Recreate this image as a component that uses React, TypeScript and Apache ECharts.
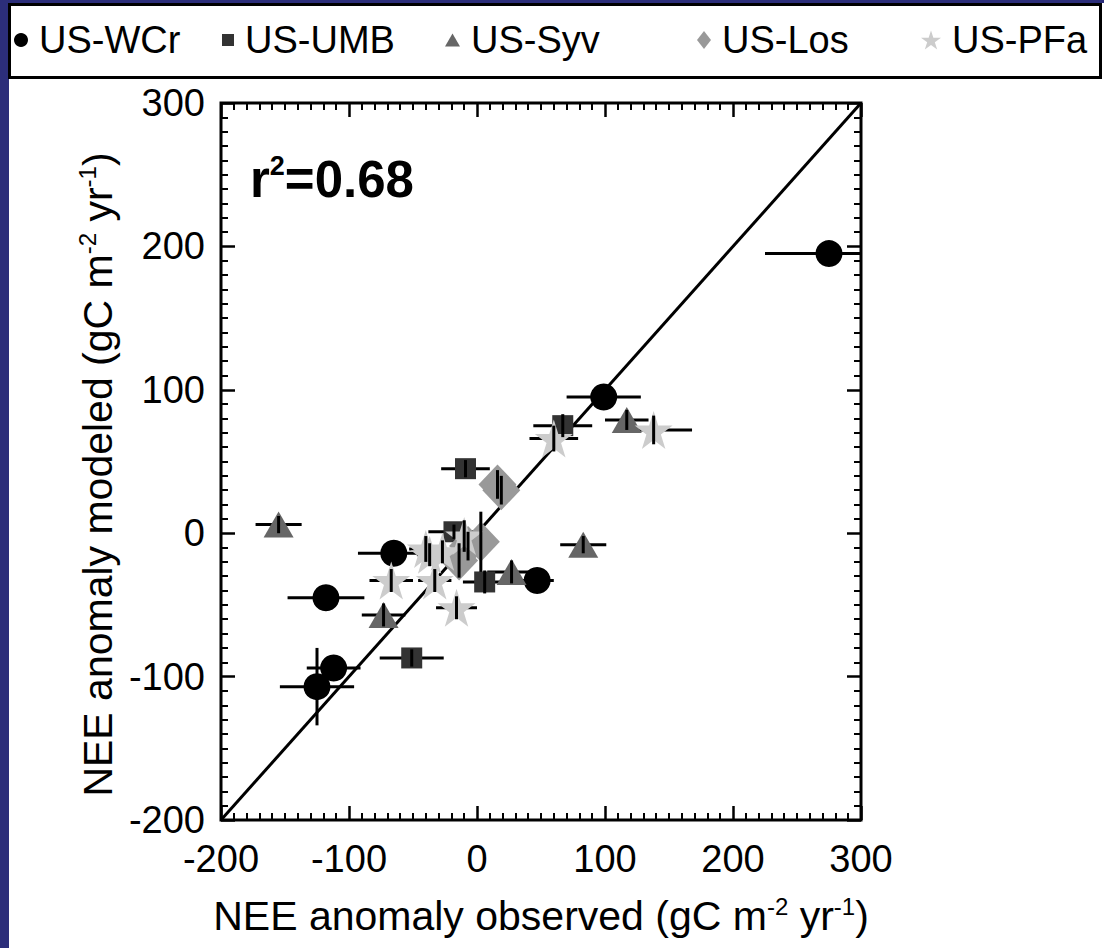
import React, { useEffect, useRef } from 'react';
import * as echarts from 'echarts';

// Sites in the comparison
const sites = ['US-WCr', 'US-UMB', 'US-Syv', 'US-Los', 'US-PFa'];

// Each row: [observed anomaly, modeled anomaly, observed uncertainty, modeled uncertainty]
const wcr = [
  [275, 195, 50, 5],
  [99, 95, 29, 5],
  [-65, -14, 28, 5],
  [-118, -45, 30, 5],
  [-112, -94, 21, 5],
  [-125, -107, 29, 27],
  [47, -33, 13, 5],
];
const umb = [
  [67, 75, 23, 8],
  [-9, 45, 19, 6],
  [-18, 1, 20, 5],
  [6, -34, 17, 8],
  [-51, -87, 25, 6],
];
const syv = [
  [117, 79, 17, 7],
  [-155, 6, 18, 6],
  [83, -8, 18, 6],
  [27, -27, 19, 8],
  [-73, -57, 17, 8],
];
const los = [
  [16, 34, 6, 10],
  [19, 30, 6, 10],
  [3, -6, 8, 21],
  [-14, -19, 8, 12],
  [-7, -9, 8, 10],
];
const pfa = [
  [138, 72, 30, 10],
  [60, 66, 19, 9],
  [-67, -33, 17, 8],
  [-16, -52, 16, 8],
  [-33, -33, 13, 8],
  [-40, -11, 13, 9],
  [-37, -15, 10, 8],
  [-10, -2, 12, 11],
  [-27, -13, 10, 8],
];

const siteData = [wcr, umb, syv, los, pfa];

// Axis range and tick spacing
const axisMin = -200;
const axisMax = 300;
const axisStep = 100;

const rSquared = '0.68';

const FONT = '"Liberation Sans", Arial, Helvetica, sans-serif';
const STAR =
  'path://M50 0L61.23 34.55L97.55 34.55L68.16 55.9L79.39 90.45L50 69.1L20.61 90.45L31.84 55.9L2.45 34.55L38.77 34.55Z';

const markerStyles = [
  { symbol: 'circle', size: 27, color: '#000000', legendW: 14, legendH: 14, legendLeft: 14 },
  { symbol: 'rect', size: 21, color: '#333333', legendW: 12, legendH: 12, legendLeft: 222 },
  { symbol: 'triangle', size: [30, 26], color: '#666666', legendW: 15, legendH: 13, legendLeft: 445 },
  { symbol: 'diamond', size: [38, 40], color: '#999999', legendW: 14, legendH: 18, legendLeft: 697 },
  { symbol: STAR, size: 38, color: '#cccccc', legendW: 20, legendH: 20, legendLeft: 921 },
];

const barStyle = { stroke: '#000', lineWidth: 3 };

const xBar = (_params: any, api: any) => {
  const x = api.value(0);
  const y = api.value(1);
  const e = api.value(2);
  const a = api.coord([x - e, y]);
  const b = api.coord([x + e, y]);
  return { type: 'line', shape: { x1: a[0], y1: a[1], x2: b[0], y2: b[1] }, style: barStyle };
};

const yBar = (_params: any, api: any) => {
  const x = api.value(0);
  const y = api.value(1);
  const e = api.value(3);
  const a = api.coord([x, y - e]);
  const b = api.coord([x, y + e]);
  return { type: 'line', shape: { x1: a[0], y1: a[1], x2: b[0], y2: b[1] }, style: barStyle };
};

const superRich = {
  t: { fontSize: 41, fontFamily: FONT, color: '#000', lineHeight: 44 },
  s: { fontSize: 24, fontFamily: FONT, color: '#000', verticalAlign: 'top', lineHeight: 24 },
};

function buildOption() {
  const series: any[] = [
    {
      type: 'line',
      data: [
        [axisMin, axisMin],
        [axisMax, axisMax],
      ],
      symbol: 'none',
      lineStyle: { color: '#000', width: 3 },
      silent: true,
      z: 2,
    },
  ];

  siteData.forEach((rows, i) => {
    const st = markerStyles[i];
    series.push({
      type: 'custom',
      renderItem: xBar,
      data: rows,
      encode: { x: 0, y: 1 },
      clip: true,
      silent: true,
      z: 2,
    });
    series.push({
      name: sites[i],
      type: 'scatter',
      data: rows.map((r) => [r[0], r[1]]),
      symbol: st.symbol,
      symbolSize: st.size,
      itemStyle: { color: st.color, opacity: 1 },
      silent: true,
      z: 2,
    });
  });
  // modeled-uncertainty bars sit over the markers
  siteData.forEach((rows) => {
    series.push({
      type: 'custom',
      renderItem: yBar,
      data: rows,
      encode: { x: 0, y: 1 },
      clip: true,
      silent: true,
      z: 5,
    });
  });

  const legends = sites.map((name, i) => {
    const st = markerStyles[i];
    return {
      data: [{ name, icon: st.symbol }],
      left: st.legendLeft,
      top: 21,
      padding: 0,
      itemWidth: st.legendW,
      itemHeight: st.legendH,
      selectedMode: false,
      textStyle: { fontSize: 38, fontFamily: FONT, color: '#000', padding: [0, 0, 0, 6] },
    };
  });

  const commonAxis = {
    type: 'value',
    min: axisMin,
    max: axisMax,
    interval: axisStep,
    axisLine: { show: false, onZero: false },
    axisTick: { show: true, inside: true, length: 14, lineStyle: { color: '#000', width: 2.5 } },
    minorTick: { show: true, splitNumber: 10, length: 7, lineStyle: { color: '#000', width: 2 } },
    splitLine: { show: false },
    minorSplitLine: { show: false },
  };

  return {
    animation: false,
    backgroundColor: '#2c2e7a',
    grid: {
      left: 221,
      top: 103,
      width: 640,
      height: 717,
      show: true,
      borderColor: '#000',
      borderWidth: 3,
      backgroundColor: 'transparent',
    },
    legend: legends,
    xAxis: [
      {
        ...commonAxis,
        position: 'bottom',
        axisLabel: { show: true, fontSize: 38, fontFamily: FONT, color: '#000', margin: 20 },
        name: '{t|NEE anomaly observed (gC m}{s|-2}{t| yr}{s|-1}{t|)}',
        nameLocation: 'middle',
        nameGap: 74,
        nameTextStyle: { rich: superRich },
      },
      {
        ...commonAxis,
        position: 'top',
        axisLabel: { show: false },
      },
    ],
    yAxis: [
      {
        ...commonAxis,
        position: 'left',
        axisLabel: { show: true, fontSize: 38, fontFamily: FONT, color: '#000', margin: 16 },
        name: '{t|NEE anomaly modeled (gC m}{s|-2}{t| yr}{s|-1}{t|)}',
        nameLocation: 'middle',
        nameGap: 96,
        nameTextStyle: { rich: superRich, padding: [0, 26, 0, 0] },
      },
      {
        ...commonAxis,
        position: 'right',
        axisLabel: { show: false },
      },
    ],
    graphic: [
      {
        type: 'rect',
        shape: { x: 9, y: 3, width: 1095, height: 945 },
        style: { fill: '#ffffff' },
        z: -20,
        silent: true,
      },
      {
        type: 'rect',
        shape: { x: 9.5, y: 4.5, width: 1091, height: 73 },
        style: { fill: '#ffffff', stroke: '#000', lineWidth: 3 },
        z: -10,
        silent: true,
      },
      {
        type: 'text',
        left: 250,
        top: 152,
        z: 10,
        style: {
          text: '{a|r}{b|2}{a|=' + rSquared + '}',
          rich: {
            a: { fontSize: 51, fontWeight: 'bold', fontFamily: FONT, color: '#000', lineHeight: 55 },
            b: { fontSize: 27, fontWeight: 'bold', fontFamily: FONT, color: '#000', verticalAlign: 'top', lineHeight: 30 },
          },
        },
      },
    ],
    series,
  };
}

export default function App() {
  const ref = useRef<HTMLDivElement>(null);
  useEffect(() => {
    if (!ref.current) return;
    const chart = echarts.init(ref.current, undefined, { renderer: 'svg' });
    chart.setOption(buildOption() as any);
    return () => chart.dispose();
  }, []);
  return (
    <div
      ref={ref}
      style={{ position: 'fixed', left: 0, top: 0, width: 1104, height: 948 }}
    />
  );
}
